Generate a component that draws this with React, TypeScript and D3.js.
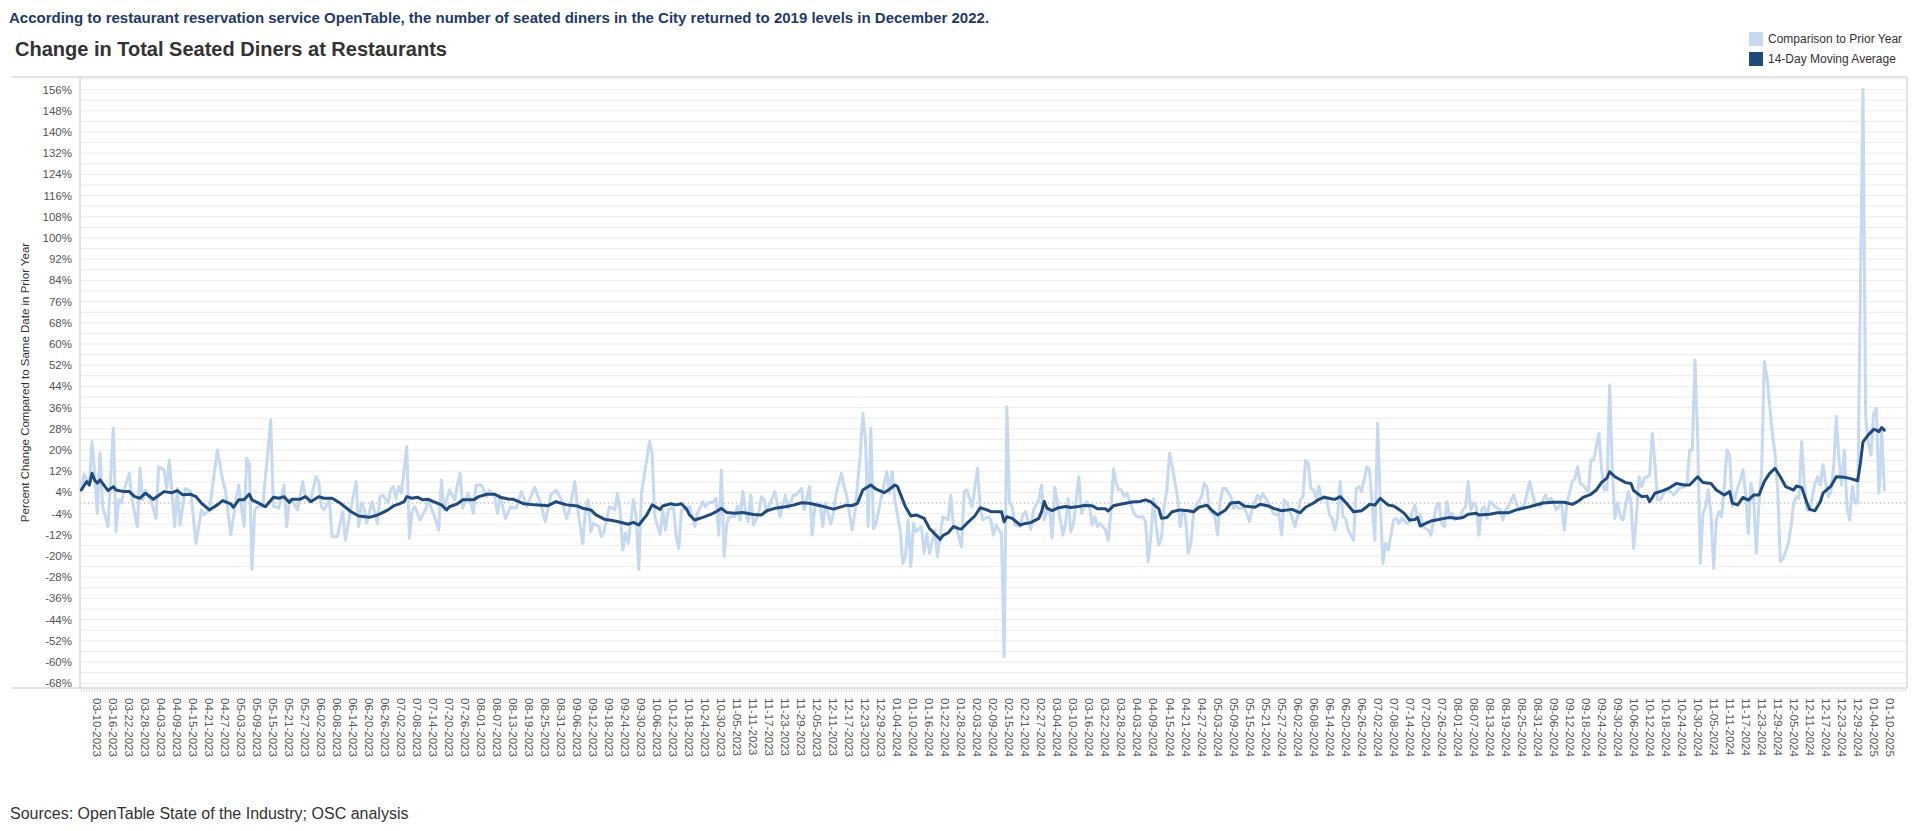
import React, { useEffect } from "react";
import * as d3 from "d3";

// Day offsets are counted from 03-10-2023 (first labelled date)
const BASE_DATE = Date.UTC(2023, 2, 10);

const lightDays = [
  -6,-5,-3,-2,-1,0,1,2,4,6,7,8,9,10,12,13,15,16,17,18,20,22,23,25,26,27,29,30,31,33,35,37,39,40,42,45,47,48,50,52,53,55,56,57,58,59,60,62,65,66,67,68,70,71,72,73,75,76,77,78,80,82,83,84,85,87,88,90,92,93,95,97,98,99,100,101,103,105,106,107,
  109,110,111,112,113,114,116,117,118,119,121,123,124,126,128,129,130,131,132,134,135,136,137,139,141,142,144,146,147,149,150,151,153,155,157,159,161,162,164,166,168,170,172,174,176,177,179,180,182,183,184,185,186,188,189,190,192,194,195,196,197,198,199,201,202,203,204,206,207,208,209,211,212,213,214,216,217,218,219,221,222,
  224,225,227,228,229,231,232,233,234,235,236,237,239,240,241,242,243,244,245,246,248,249,250,251,254,256,258,259,261,262,264,265,267,268,269,271,272,273,275,276,277,279,280,281,283,284,286,287,288,289,290,291,292,294,296,297,298,299,301,302,303,304,305,306,307,309,310,311,312,314,315,316,317,319,320,321,322,324,325,326,328,330,331,332,334,335,336,
  337,338,339,340,341,342,343,344,346,347,348,350,351,353,354,355,356,357,358,359,360,362,363,364,365,366,368,369,371,372,373,374,375,376,378,379,380,381,382,383,384,385,386,387,388,389,390,391,392,393,394,395,396,397,398,399,400,401,402,403,405,406,407,408,409,410,411,412,414,415,416,417,419,420,421,422,423,425,426,427,428,430,431,432,433,435,436,437,438,439,441,442,443,444,445,446,447,449,450,451,
  452,453,454,455,456,457,458,459,460,461,462,463,464,465,466,467,468,469,471,472,473,474,476,477,478,479,480,481,482,483,484,486,487,488,489,491,492,493,494,495,496,497,499,500,501,502,503,504,505,506,507,508,509,510,511,512,513,514,515,516,517,518,519,520,521,522,523,524,526,527,528,529,531,532,533,534,535,537,538,539,541,542,543,544,545,546,547,549,550,551,553,554,555,556,557,558,559,560,561,563,564,565,
  566,567,568,569,570,571,572,574,575,576,577,578,579,580,581,582,583,584,585,586,588,590,591,593,595,596,597,598,599,600,601,602,603,604,605,606,607,608,609,610,611,612,613,614,616,617,618,619,620,621,622,623,624,625,626,628,629,630,631,632,633,634,635,636,637,638,639,640,641,642,644,645,646,647,648,649,650,651,652,653,654,655,656,657,658,659,660,662,663,664,665,666,667,668,669,670
];
const lightValues = [
  4.9,11,6.8,23.2,11.2,-3.9,19,-1.4,-8.9,28.2,-10.8,1.2,0,4.9,11.2,1.2,-8.9,13.1,1.2,4.9,1.2,-5.8,13.7,12.5,5.5,16.2,-8.9,5.5,-8.3,5.5,4.3,-15.2,-2.6,-4.5,-2.6,20,8.7,4.9,-12,1.2,6.8,-8.9,16.8,15,-25,-2.6,-1.4,-1.4,31.3,-1.4,-1.4,-2,6.8,-8.9,1.2,1.2,-2.6,2.4,8.1,2.4,1.2,10,8.1,-1.4,-2.6,1.2,-12.7,-12.7,-3.2,-14,-2.6,8.1,-8.9,0,-2,-7.6,0.5,-7.7,2.4,3,
  0,4.9,6.2,1.8,6.2,3.7,21.3,-13.3,-3.2,-1.4,-6.4,-2.6,1.2,-3.9,-10.2,8.7,-2.6,1.2,4.9,1.2,6.8,11.2,-2,3.7,-3.9,6.8,6.8,2.4,4.9,2.4,-3.9,3,-5.8,-1.4,-2,4.3,-1.4,1.2,5.9,0.5,-7,3,4.9,1.2,-5.8,-2.6,8.1,-1.4,-15.2,-2.6,1.2,-10.8,-7.6,-8.9,-12.7,-10.8,-1.4,-2.6,3.7,-2.6,-17.7,-11.4,-15.2,1.2,-5.1,-25,3.7,16.3,23.2,18.8,-5.1,-12,-2.6,-10.2,-2.6,-1.4,-12.7,-17.1,-2.6,-2,-1.4,
  -8.9,-3.9,0.5,-1.4,0,0.5,1.8,-12.1,12.5,-20.2,-7.7,-5.2,-5.2,-1.1,-6.4,4.3,-2.6,-7,3,-8.3,-3.9,2.4,1.2,-3.3,4.3,-5.2,3,-2,3,3,5.5,-2.6,6.2,-12.1,-1.4,0,-8.9,0,-7.7,-3.9,3.7,11.2,6.2,2.4,-10.2,-3.9,17.5,33.8,23.8,-8.9,28.2,-9.6,-7.7,2.4,11.8,3.7,11.8,1.1,-10.2,-22.8,-20.2,-6.4,-24,-7.7,-10.8,-8.9,-19,-11.4,-19,-10.2,-20.2,-12.7,-5.2,-6.4,3,-8.9,-8.9,-16.5,4.3,4.9,-1.4,13.1,-1.4,-6.4,-5.2,-6.4,-12.1,
  -8.3,-10.2,-11.4,-58,36.3,0,-1.4,-8.3,-8.9,-4.5,-3.3,-10,-2.6,1.1,6.8,-6.4,-3.3,-2,-13.3,5.9,0,-12.1,-7.7,1.7,-10.8,-7.7,9.9,-3.9,0.5,-1.4,-8.3,-5.2,-8.9,-7.7,-10.2,-14,-3.9,12.8,7.4,4.9,4.9,2.4,3.7,1.1,-2,-4.5,-5.2,-5.2,-5.2,-7,-22.1,-12.7,1.8,-9,-15.9,-12.7,-0.9,4.9,18.7,13.7,2.4,-9,-2.6,-5.2,-19,-15.2,-3.9,-0.8,2.4,7.4,6.2,-2.6,-5.2,-12.1,1.1,5.5,5.5,2.4,-2,-0.8,-2,-2,-3.9,-7,-2,3,1.1,3.6,1.8,0,-3.9,-4.5,-3.9,-12.1,1.1,0,-2.6,-9,-5,1.1,
  2.4,16,15,5.5,4.9,1.8,6.2,1.1,2.4,1.1,-4.5,-5.8,-10.2,-5.2,8.1,-5.2,-5.8,-10.2,-14,5.5,6.2,4.3,13.7,12.5,-1.4,-14,30.1,1.1,-22.8,-15.2,-17.7,-6.4,-5.8,-7.7,-5.8,-7.7,-7,-3.3,-0.8,-6.4,-4.5,-9,-10.2,-12.1,-6.4,-1.4,0,-7.7,-9,0.5,-5.2,-3.9,-6.4,-5.2,-5.8,-2.6,-1.4,8.1,-2.6,0,-1.4,-12.1,-2.6,-1.4,-5.8,0.5,0,-1.4,-2.6,-6.4,-2.6,-1.4,3,0,-2.6,-1.4,-0.8,8.1,3.7,0,-1.4,1.1,3,0.5,1.8,0,-2.6,0,-10.2,0,8.1,9.3,13.7,7.4,6.8,5.5,4.3,16.2,16.2,26.3,12.5,4.9,
  4.9,44.5,12.5,-5.8,0,-5.2,-6.4,4.3,0.5,-17.1,-5.8,9.9,6.2,9.3,9.9,10.5,26.3,14.9,1.1,1.1,4.9,4.3,3,5.5,6.2,6.8,20,20,54,25,-22.8,-3.9,-1.4,4.9,-3.9,-24.6,-6.4,-3.3,-5.2,6.2,20,18.1,-1.4,2.4,8.7,12.5,3.7,-11.4,7.4,2.4,-19,0,12.5,53.3,47.7,26.3,18.8,4.9,-22,-21,-18.3,-15.2,-9,0,2.4,1.8,23.1,7.4,-2.6,-2.6,7.4,9.9,6.8,14.4,7.4,2.4,4.3,13.7,32.6,16.2,6.8,20,-1.4,-6.4,6.2,0,0,156,32.6,22.5,18.1,33.8,35.7,3.7,27,4.9
];

const avgDays = [
  -6,-4,-3,-2,-1,0,1,4,6,7,10,12,14,16,18,21,25,28,30,32,35,37,39,42,45,47,50,51,53,55,57,58,61,63,66,68,70,72,73,76,78,80,83,85,88,91,95,98,102,105,106,
  109,111,113,115,116,118,120,122,124,126,129,131,132,135,137,141,143,146,149,151,154,156,160,164,169,172,176,180,182,185,187,190,192,195,199,201,203,206,208,211,212,215,217,219,221,222,
  224,227,230,232,234,236,239,242,246,249,251,254,258,261,264,267,271,276,281,283,285,287,290,292,295,297,299,300,302,303,305,307,310,312,316,317,319,321,323,324,326,329,331,333,335,
  339,340,341,343,346,348,350,353,354,355,356,358,360,363,365,368,370,373,375,378,379,381,384,388,391,393,395,398,399,401,403,406,409,411,413,416,418,420,423,425,428,430,434,436,439,441,444,448,449,451,
  453,456,458,460,463,464,466,468,471,474,476,477,479,481,482,484,486,488,490,492,494,495,496,498,500,502,505,507,510,512,514,517,518,522,525,529,532,537,542,546,550,553,555,557,560,562,564,
  566,567,569,573,575,576,579,581,582,584,587,589,592,595,597,600,602,605,607,610,612,613,615,617,619,621,623,625,627,629,631,633,636,637,639,641,642,644,646,647,650,652,655,657,660,661,662,664,666,667,668,669,670
];
const avgValues = [
  4.9,8.1,6.8,11.2,8.7,7.5,8.7,4.7,6.2,4.9,4.3,4.3,2.4,1.8,3.7,1.4,4.3,3.9,4.7,3.1,3.3,2.4,0,-2.6,-0.7,0.9,-0.3,-1.6,1.2,1.2,3.4,1.2,-0.3,-1.4,2.2,1.8,2.4,0.2,1.4,1.4,2.4,0.5,2.4,1.8,1.8,0,-3.2,-4.9,-5.4,-4.5,-4.1,
  -2.6,-1.1,-0.4,0.5,2.4,1.8,2.2,1.2,1.4,0.5,-0.7,-2.6,-1.4,-0.3,1.2,1.2,2.4,3.3,3.3,2.2,1.5,1.4,-0.3,-0.7,-1,0.5,-0.7,-1.1,-2,-2.6,-4.5,-6.1,-6.4,-7,-8,-7.3,-8.3,-4.5,-0.7,-2.4,-1.1,-0.3,-0.7,-0.3,-2.4,-4.5,
  -6.4,-5.4,-4.3,-3.3,-2,-3.6,-3.9,-3.6,-4.3,-4.5,-2.9,-2,-1.4,-0.8,0.1,-0.1,-1,-2.3,-0.8,-1,-0.1,4.9,6.8,5.2,3.9,5.2,6.8,6.2,1.1,-1.4,-4.9,-4.5,-5.8,-9.6,-13.7,-12.3,-11.2,-8.9,-9.7,-9.8,-7.7,-4.9,-1.8,-2.4,-3.2,
  -3.3,-7.1,-5.2,-5.8,-8.3,-7.7,-7.4,-5.8,-3.3,0.6,-1.9,-2.9,-1.9,-1.3,-1.7,-1.3,-0.9,-1,-2.2,-2.2,-3,-1,-0.4,0.4,0.6,1.2,0.4,-2.2,-5.8,-5.5,-3.3,-2.6,-2.9,-3.3,-1.6,-0.8,-2.9,-4.5,-2.6,0,0.3,-1.1,-1.6,-0.5,-1.1,-2,-2.9,-2.4,-2.9,-3.7,
  -1.6,0,1.4,2.2,1.5,1.4,2.4,0.3,-3.3,-2.9,-1.4,-0.5,-0.8,1.8,0.9,-0.8,-1.1,-2.4,-3.9,-6.4,-6.2,-5.5,-8.7,-7.7,-6.8,-6.4,-5.8,-5.5,-5.8,-5.5,-4.2,-3.9,-4.5,-4.2,-3.7,-3.7,-2.6,-1.4,0,0.3,0.3,-0.5,0.5,2.1,3.3,4.9,7.8,
  9.4,11.8,9.9,7.7,7.4,4.7,2.4,2.6,0.5,3.7,4.7,5.5,7.4,6.8,6.8,9.9,7.7,7.4,4.9,3,4.3,0,-0.7,2.1,1.1,3,3,8.1,11.2,13.1,9.9,6.2,4.9,6.4,5.9,0,-2.4,-2.9,0.5,3.7,6.4,9.9,9.7,9.3,8.4,15,23.1,25.7,27.8,27.5,26.9,28.5,27.5
];

const yTickValues = [156,148,140,132,124,116,108,100,92,84,76,68,60,52,44,36,28,20,12,4,-4,-12,-20,-28,-36,-44,-52,-60,-68];
const xLabelFirstDay = 0;   // 03-10-2023
const xLabelLastDay = 672;  // 01-10-2025
const xLabelStep = 6;

const SUBTITLE = "According to restaurant reservation service OpenTable, the number of seated diners in the City returned to 2019 levels in December 2022.";
const TITLE = "Change in Total Seated Diners at Restaurants";
const Y_TITLE = "Percent Change Compared to Same Date in Prior Year";
const SOURCE = "Sources: OpenTable State of the Industry; OSC analysis";
const legendItems = [
  { label: "Comparison to Prior Year", color: "#c5d9f0" },
  { label: "14-Day Moving Average", color: "#1f4a7e" },
];

const FONT = "Arial, 'Liberation Sans', Helvetica, sans-serif";

export default function App() {
  useEffect(() => {
    document.body.style.margin = "0";
  }, []);

  const left = 80, right = 1907, top = 77, bottom = 688;
  const x = d3.scaleLinear().domain([-6.5, 678.5]).range([left, right]);
  const y = d3.scaleLinear().domain([-69.8, 160.75]).range([bottom, top]);

  const lightData = lightDays.map((d, i) => [d, lightValues[i]] as [number, number]);
  const avgData = avgDays.map((d, i) => [d, avgValues[i]] as [number, number]);
  const line = d3.line<[number, number]>().x(d => x(d[0])).y(d => y(d[1]));

  const gridValues = d3.range(-68, 161, 4);
  const dayTicks = d3.range(-6, 679, 1);
  const labelDays = d3.range(xLabelFirstDay, xLabelLastDay + 1, xLabelStep);
  const fmt = d3.utcFormat("%m-%d-%Y");
  const dateOf = (d: number) => new Date(BASE_DATE + d * 86400000);

  return (
    <svg width={1920} height={831} style={{ position: "absolute", left: 0, top: 0, background: "#fff" }} fontFamily={FONT}>
      <text x={9} y={23} fontSize={15} fontWeight="bold" fill="#1f3a68">{SUBTITLE}</text>
      <text x={15} y={56} fontSize={20} fontWeight="bold" fill="#333">{TITLE}</text>

      {legendItems.map((it, i) => (
        <g key={it.label} transform={`translate(1749, ${32 + i * 20})`}>
          <rect x={0} y={0} width={14} height={14} fill={it.color} />
          <text x={19} y={7} dy="0.35em" fontSize={12} fill="#333">{it.label}</text>
        </g>
      ))}

      {/* gridlines */}
      {gridValues.map(v => (
        <line key={v} x1={left} x2={right} y1={y(v)} y2={y(v)} stroke="#ececec" strokeWidth={1} />
      ))}
      {/* zero line */}
      <line x1={left} x2={right} y1={y(0)} y2={y(0)} stroke="#aaa" strokeWidth={1} strokeDasharray="1,3" />

      {/* frame */}
      <line x1={12} x2={right} y1={top} y2={top} stroke="#c8c8c8" />
      <line x1={12} x2={right} y1={bottom} y2={bottom} stroke="#c8c8c8" />
      <line x1={left} x2={left} y1={top} y2={bottom} stroke="#c8c8c8" />
      <line x1={right} x2={right} y1={top} y2={bottom} stroke="#c8c8c8" />

      {/* day ticks */}
      {dayTicks.map(d => (
        <line key={d} x1={x(d)} x2={x(d)} y1={bottom} y2={bottom + 4} stroke="#dcdcdc" strokeWidth={1} />
      ))}

      {/* y tick labels */}
      {yTickValues.map(v => (
        <text key={v} x={72} y={y(v)} dy="0.35em" textAnchor="end" fontSize={11.5} fill="#555">{`${v}%`}</text>
      ))}
      <text transform={`translate(29, ${(top + bottom) / 2}) rotate(-90)`} textAnchor="middle" fontSize={11.5} fill="#333">{Y_TITLE}</text>

      {/* x labels */}
      {labelDays.map(d => (
        <text key={d} transform={`translate(${x(d)}, 698) rotate(90)`} dy="0.35em" textAnchor="start" fontSize={11.5} fill="#555">{fmt(dateOf(d))}</text>
      ))}

      {/* series */}
      <path d={line(lightData) || ""} fill="none" stroke="#c5d9f0" strokeWidth={3} strokeLinejoin="round" strokeLinecap="round" />
      <path d={line(avgData) || ""} fill="none" stroke="#1f4a7e" strokeWidth={3} strokeLinejoin="round" strokeLinecap="round" />

      <text x={10} y={819} fontSize={16} fill="#333">{SOURCE}</text>
    </svg>
  );
}
